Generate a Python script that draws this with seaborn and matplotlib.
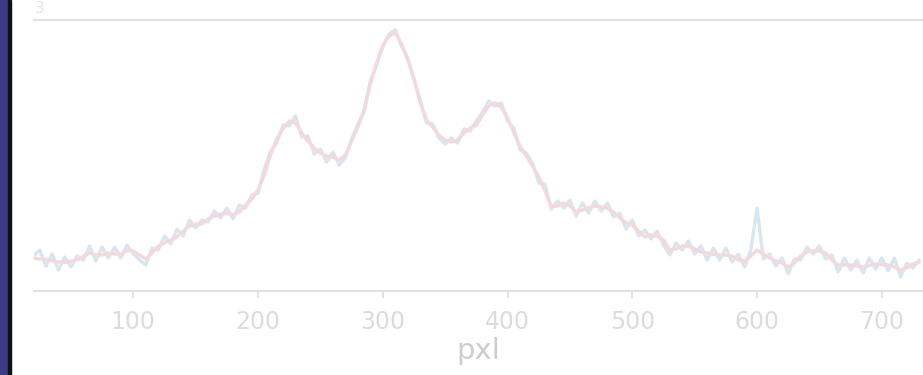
import numpy as np
import pandas as pd
import matplotlib
matplotlib.use("Agg")
import matplotlib.pyplot as plt
from matplotlib.patches import Rectangle
import seaborn as sns

# pixel positions along the profile
pxl = np.arange(20, 735, 5)

# raw profile (noisy, blue)
raw = [35, 41, 25, 37, 21, 34, 24, 35, 31, 45, 30, 44, 33, 44, 33, 46, 37, 31, 26, 43,
       41, 55, 47, 62, 55, 71, 63, 71, 69, 80, 73, 83, 72, 86, 83, 96, 98, 122, 140, 148,
       166, 165, 175, 154, 155, 137, 142, 129, 139, 126, 133, 152, 167, 179, 210, 226, 244, 257, 261, 245,
       233, 211, 191, 168, 167, 153, 147, 153, 148, 162, 160, 170, 179, 190, 185, 188, 170, 163, 141, 138,
       128, 108, 107, 82, 90, 83, 91, 75, 88, 78, 90, 80, 88, 74, 78, 62, 71, 55, 61, 52,
       60, 46, 36, 48, 41, 50, 37, 45, 31, 43, 31, 43, 29, 37, 24, 41, 83, 32, 37, 25,
       33, 17, 32, 31, 44, 37, 45, 32, 36, 19, 33, 21, 31, 18, 33, 22, 33, 20, 33, 14,
       28, 23, 31]

# smoothed profile (pink)
smooth = [33, 32, 31.5, 30.5, 29, 28.5, 30, 31, 34.5, 38, 36, 36, 38, 37, 36.5, 40.5, 40, 36, 32, 38,
          45, 48, 51, 54, 60, 65, 67, 67, 72, 75, 77, 77.5, 76.5, 79, 86, 92, 101, 116, 136, 152,
          162, 170, 168, 158, 150, 143, 138, 135, 134, 131, 136, 150, 164, 181, 207, 228, 246, 255, 258, 247,
          231, 212, 188, 171, 164, 156, 151, 149, 151, 158, 163, 166, 176, 185, 188, 184, 173, 158, 145, 135,
          125, 114, 100, 85, 85, 88, 85, 79, 81, 83, 85, 84, 83, 79, 73, 68, 66, 60, 54, 56,
          55, 51, 41, 42, 45, 45, 42, 39, 38, 36.5, 36, 36, 35, 31, 30, 35, 41, 37, 33, 30,
          28, 24, 28, 35, 39, 40, 40, 38, 31, 26, 26, 26, 25, 24, 25.5, 27, 26.5, 26, 24, 21,
          23, 27, 29]

xticks = [100, 200, 300, 400, 500, 600, 700]

df = pd.DataFrame({"pxl": pxl, "raw": raw, "smooth": smooth})

sns.set_theme(style="white")
plt.rcParams['font.family'] = ['DejaVu Sans']

fig = plt.figure(figsize=(9.23, 3.75), dpi=100)
ax = fig.add_axes([34 / 923, 84 / 375, 889 / 923, 271 / 375])

sns.lineplot(data=df, x="pxl", y="raw", ax=ax, color="#d9e6f0", lw=2.4)
sns.lineplot(data=df, x="pxl", y="smooth", ax=ax, color="#f3d9dc", lw=2.4)

ax.set_xlim(20.4, 733)
ax.set_ylim(0, 271)
ax.set_yticks([])
ax.set_ylabel("")
ax.set_xticks(xticks)
ax.tick_params(axis="x", colors="#dcdcdc", labelsize=17, length=5, width=1.2,
               pad=9, bottom=True)
ax.set_xlabel("pxl", fontsize=21, color="#cdcdcd", labelpad=2)

for side in ["left", "right"]:
    ax.spines[side].set_visible(False)
for side in ["top", "bottom"]:
    ax.spines[side].set_color("#e2e2e2")
    ax.spines[side].set_linewidth(1.5)

# dark window border on the left
fig.patches.append(Rectangle((0, 0), 8 / 923, 1, transform=fig.transFigure,
                             color="#3a3a86", zorder=5))
fig.patches.append(Rectangle((8 / 923, 0), 2.5 / 923, 1, transform=fig.transFigure,
                             color="#111111", zorder=5))

fig.text(35 / 923, 1 - 1 / 375, "3", fontsize=11, color="#e4e4e4", va="top")

fig.savefig("out.png", dpi=100)
